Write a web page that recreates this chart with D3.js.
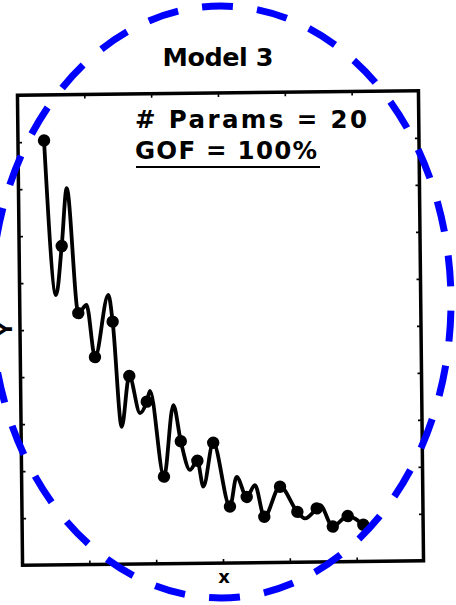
<!DOCTYPE html>
<html>
<head>
<meta charset="utf-8">
<script src="https://cdn.jsdelivr.net/npm/d3@7"></script>
<style>
  html, body { margin: 0; padding: 0; background: #fff; }
  svg { display: block; }
</style>
</head>
<body>
<svg id="chart" width="456" height="605"></svg>
<script>
// Observed data points
const obsX = [1.56, 2.55, 3.50, 4.47, 5.55, 6.51, 7.54, 8.52, 9.55, 10.53,
              11.49, 12.45, 13.46, 14.50, 15.46, 16.48, 17.64, 18.59, 19.49, 20.42];
const obsY = [9.03, 6.78, 5.35, 4.41, 5.16, 4.00, 3.45, 1.85, 2.60, 2.18,
              2.56, 1.20, 1.40, 0.975, 1.61, 1.07, 1.14, 0.75, 0.97, 0.78];

// Fitted 20-parameter model: knots of the curve (observations plus its turning points)
const fitX = [1.56, 2.18, 2.55, 2.89, 3.50, 4.00, 4.47, 5.31, 5.55, 6.02,
              6.51, 7.13, 7.54, 7.74, 8.52, 9.13, 9.55, 10.08, 10.53, 10.87,
              11.49, 12.45, 12.87, 13.46, 13.96, 14.50, 15.46, 16.48, 16.93, 17.64,
              17.84, 18.59, 19.49, 20.42];
const fitY = [9.03, 5.74, 6.78, 8.01, 5.35, 5.52, 4.41, 5.73, 5.16, 2.92,
              4.00, 3.21, 3.45, 3.68, 1.85, 3.37, 2.60, 1.99, 2.18, 1.63,
              2.56, 1.20, 1.83, 1.40, 1.65, 0.975, 1.61, 1.07, 0.93, 1.14,
              1.21, 0.75, 0.97, 0.78];

const xTicks = [4, 8, 12, 16, 20];
const yTicks = [1, 2, 3, 4, 5, 6, 7, 8, 9];

const titleText = "Model 3";
const noteLines = ["# Params = 20", "GOF = 100%"];
const xLabel = "x";
const yLabel = "Y";

// ---- layout ----
const W = 456, H = 605;
const frame = { left: 20, right: 421, top: 93, bottom: 563 };
const tilt = -0.62;                 // the printed figure sits slightly askew
const ring = { cx: 221, cy: 302, rx: 230, ry: 296, dash: 31, count: 30 };
const ink = "#000";
const font = "'DejaVu Sans', 'Liberation Sans', Arial, sans-serif";

const x = d3.scaleLinear().domain([0, 24]).range([frame.left, frame.right]);
const y = d3.scaleLinear().domain([0, 10]).range([frame.bottom, frame.top]);

const svg = d3.select("#chart");
svg.append("rect").attr("width", W).attr("height", H).attr("fill", "#fff");

const cxF = (frame.left + frame.right) / 2, cyF = (frame.top + frame.bottom) / 2;
const plot = svg.append("g")
  .attr("transform", `rotate(${tilt} ${cxF} ${cyF})`);

// inward tick marks on all four sides
function styleAxis(g) {
  g.select(".domain").remove();
  g.selectAll(".tick line").attr("stroke", ink).attr("stroke-width", 1.6);
}
plot.append("g").attr("transform", `translate(${frame.left},0)`)
  .call(d3.axisLeft(y).tickValues(yTicks).tickSize(-4).tickFormat(""))
  .call(styleAxis);
plot.append("g").attr("transform", `translate(${frame.right},0)`)
  .call(d3.axisRight(y).tickValues(yTicks).tickSize(-4).tickFormat(""))
  .call(styleAxis);
plot.append("g").attr("transform", `translate(0,${frame.bottom})`)
  .call(d3.axisBottom(x).tickValues(xTicks).tickSize(-4).tickFormat(""))
  .call(styleAxis);
plot.append("g").attr("transform", `translate(0,${frame.top})`)
  .call(d3.axisTop(x).tickValues(xTicks).tickSize(-4).tickFormat(""))
  .call(styleAxis);

// frame
plot.append("rect")
  .attr("x", frame.left).attr("y", frame.top)
  .attr("width", frame.right - frame.left).attr("height", frame.bottom - frame.top)
  .attr("fill", "none").attr("stroke", ink).attr("stroke-width", 3.5);

// fitted curve
const fit = fitX.map((v, i) => [v, fitY[i]]);
plot.append("path")
  .datum(fit)
  .attr("fill", "none")
  .attr("stroke", ink)
  .attr("stroke-width", 3.8)
  .attr("stroke-linejoin", "round")
  .attr("stroke-linecap", "round")
  .attr("d", d3.line().x(d => x(d[0])).y(d => y(d[1])).curve(d3.curveMonotoneX));

// observations
plot.append("g").selectAll("circle")
  .data(obsX.map((v, i) => [v, obsY[i]]))
  .join("circle")
  .attr("cx", d => x(d[0]))
  .attr("cy", d => y(d[1]))
  .attr("r", 6.2)
  .attr("fill", ink);

// title and annotation
svg.append("text")
  .attr("x", 218).attr("y", 66)
  .attr("text-anchor", "middle")
  .attr("font-family", font).attr("font-weight", "bold").attr("font-size", 25.5)
  .attr("textLength", 111).attr("lengthAdjust", "spacing")
  .attr("fill", ink)
  .text(titleText);

const noteWidths = [232, 182];
const noteBase = [128, 159];
noteLines.forEach((t, i) => {
  svg.append("text")
    .attr("x", 135).attr("y", noteBase[i])
    .attr("font-family", font).attr("font-weight", "bold").attr("font-size", 24.5)
    .attr("textLength", noteWidths[i]).attr("lengthAdjust", "spacing")
    .attr("fill", ink)
    .text(t);
});
svg.append("line")
  .attr("x1", 136).attr("x2", 320).attr("y1", 167).attr("y2", 167)
  .attr("stroke", ink).attr("stroke-width", 2);

// axis titles
svg.append("text")
  .attr("x", 224).attr("y", 583)
  .attr("text-anchor", "middle")
  .attr("font-family", font).attr("font-weight", "bold").attr("font-size", 18)
  .attr("fill", ink)
  .text(xLabel);
svg.append("text")
  .attr("transform", "translate(12,329) rotate(-90)")
  .attr("text-anchor", "middle")
  .attr("font-family", font).attr("font-weight", "bold").attr("font-size", 19)
  .attr("fill", ink)
  .text(yLabel);

// dashed highlight ring
const ell = svg.append("ellipse")
  .attr("cx", ring.cx).attr("cy", ring.cy)
  .attr("rx", ring.rx).attr("ry", ring.ry)
  .attr("fill", "none")
  .attr("stroke", "#0000ff")
  .attr("stroke-width", 7);
const L = ell.node().getTotalLength ? ell.node().getTotalLength() : 1659;
const period = L / ring.count;
ell.attr("stroke-dasharray", `${ring.dash} ${period - ring.dash}`)
   .attr("stroke-dashoffset", period - 8.65);
</script>
</body>
</html>
